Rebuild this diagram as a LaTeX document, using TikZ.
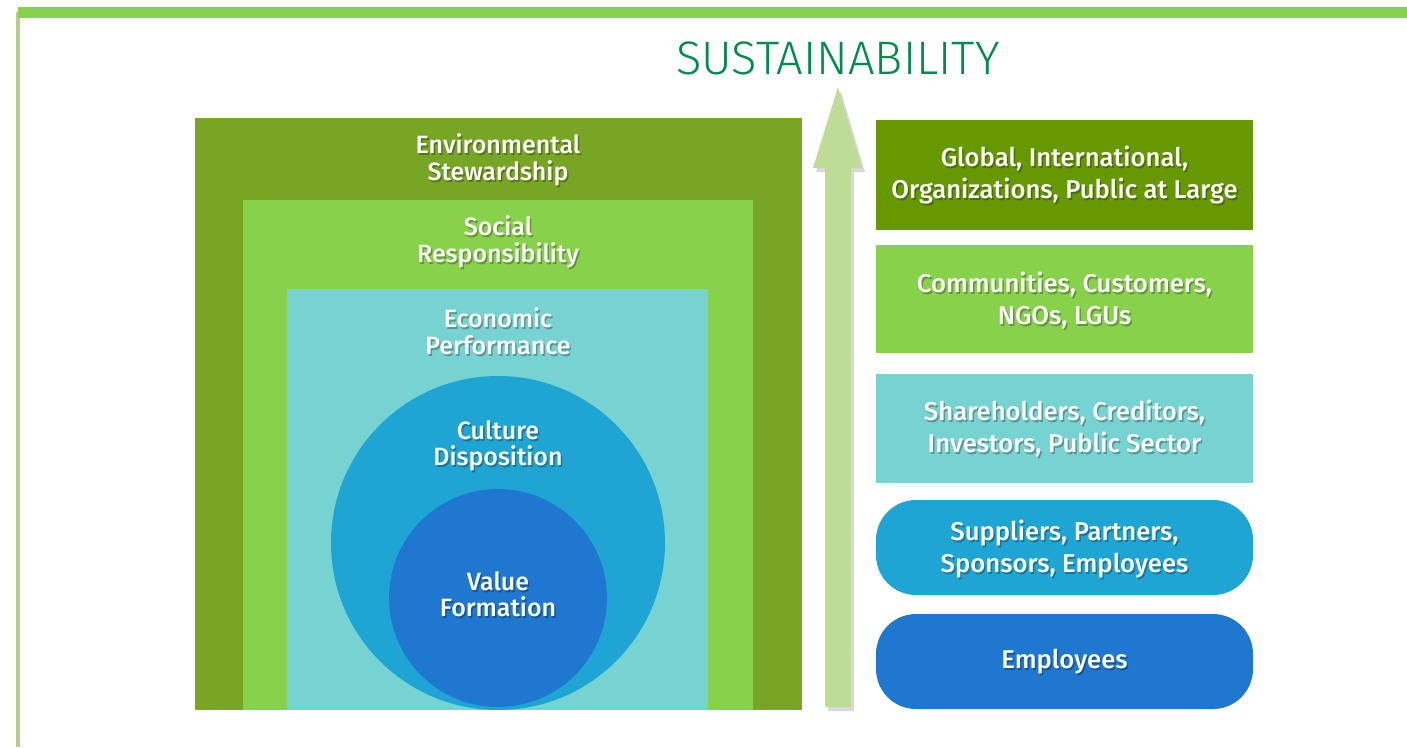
\documentclass[tikz,border=0pt]{standalone}
\usepackage{fontspec}
\setmainfont{Fira Sans}[UprightFont=* Medium]
\newfontfamily\titlefont{Fira Sans Light}
\usetikzlibrary{shadows}

\definecolor{envgreen}{HTML}{78A523}
\definecolor{socgreen}{HTML}{88D14B}
\definecolor{ecoteal}{HTML}{77D2D2}
\definecolor{cultblue}{HTML}{1FA5D3}
\definecolor{valblue}{HTML}{1F77CF}
\definecolor{globgreen}{HTML}{669900}
\definecolor{arrowgreen}{HTML}{BDDC96}
\definecolor{titlegreen}{HTML}{008C4A}

% white label with a soft dark copy underneath
\newcommand\shadowlabel[3]{%
  \node[lbl,text=black,opacity=0.28,xshift=1.5pt,yshift=-2pt] at (#2) {#3};
  \node[lbl] (#1) at (#2) {#3};}

\begin{document}
\begin{tikzpicture}[x=1pt, y=-1pt,
  sq/.style={rectangle,inner sep=0pt,outer sep=0pt,draw=none},
  disc/.style={circle,inner sep=0pt,outer sep=0pt,draw=none},
  stake/.style={rectangle,inner sep=0pt,outer sep=0pt,draw=none,minimum width=377pt},
  pill/.style={stake,rounded corners=40pt},
  lbl/.style={text=white,align=center,inner sep=0pt},
  small/.style={font=\fontsize{25}{26.5}\selectfont},
  big/.style={font=\fontsize{25.7}{32}\selectfont}]
\useasboundingbox (0,0) rectangle (1407,747);

% frame lines
\fill[arrowgreen!90!black!60!arrowgreen] (16,12) rectangle (20,747);
\fill[socgreen] (18,7) rectangle (1407,18);

\node[font=\titlefont\fontsize{47}{50}\selectfont,text=titlegreen,inner sep=0pt] (title) at (838,58) {SUSTAINABILITY};

% nested squares and circles
\node[sq,fill=envgreen,minimum width=607pt,minimum height=592pt] (env) at (498.5,414) {};
\node[sq,fill=socgreen,minimum width=510pt,minimum height=510pt] (soc) at (498,455) {};
\node[sq,fill=ecoteal,minimum width=421pt,minimum height=421pt] (eco) at (497.5,499.5) {};
\begin{scope}
\clip (eco.south west) rectangle (eco.north east);
\node[disc,fill=cultblue,minimum size=334pt] (cult) at (498,543) {};
\node[disc,fill=valblue,minimum size=218pt] (val) at (498,598) {};
\end{scope}

\begin{scope}[every node/.append style={small}]
\shadowlabel{envlbl}{498,160}{Environmental\\Stewardship}
\shadowlabel{soclbl}{498,242}{Social\\Responsibility}
\shadowlabel{ecolbl}{498,331}{Economic\\Performance}
\shadowlabel{cultlbl}{498,446}{Culture\\Disposition}
\shadowlabel{vallbl}{498,594}{Value\\Formation}
\end{scope}

% upward arrow
\fill[arrowgreen,drop shadow={opacity=0.3,shadow xshift=3pt,shadow yshift=-4pt}]
  (825,707) -- (825,168) -- (813,168) -- (838,87) -- (862,168) -- (851,168) -- (851,707) -- cycle;

% stakeholder levels
\node[stake,fill=globgreen,minimum height=110pt] (glob) at (1064.5,175) {};
\node[stake,fill=socgreen,minimum height=108pt] (comm) at (1064.5,299) {};
\node[stake,fill=ecoteal,minimum height=109pt] (share) at (1064.5,428.5) {};
\node[pill,fill=cultblue,minimum height=95pt] (supp) at (1064.5,547.5) {};
\node[pill,fill=valblue,minimum height=95pt] (empl) at (1064.5,661.5) {};

\begin{scope}[every node/.append style={big}]
\shadowlabel{globlbl}{1064.5,175}{Global, International,\\Organizations, Public at Large}
\shadowlabel{commlbl}{1064.5,300}{Communities, Customers,\\NGOs, LGUs}
\shadowlabel{sharelbl}{1064.5,428.5}{Shareholders, Creditors,\\Investors, Public Sector}
\shadowlabel{supplbl}{1064.5,549}{Suppliers, Partners,\\Sponsors, Employees}
\shadowlabel{empllbl}{1064.5,661.5}{Employees}
\end{scope}
\end{tikzpicture}
\end{document}
